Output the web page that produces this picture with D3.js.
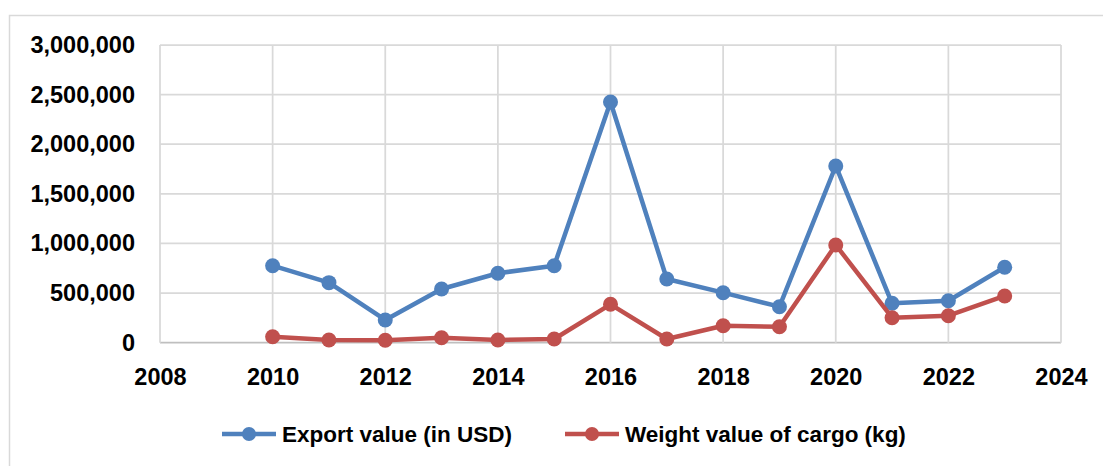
<!DOCTYPE html>
<html>
<head>
<meta charset="utf-8">
<script src="https://cdn.jsdelivr.net/npm/d3@7"></script>
<style>
  html, body { margin: 0; padding: 0; background: #fff; }
  svg { display: block; }
</style>
</head>
<body>
<div id="chart"></div>
<script>
var years = [2010, 2011, 2012, 2013, 2014, 2015, 2016, 2017, 2018, 2019, 2020, 2021, 2022, 2023];
var exportValue = [776000, 605000, 229000, 541000, 700000, 776000, 2426000, 642000, 504000, 363000, 1781000, 397000, 423000, 760000];
var cargoWeight = [60000, 27000, 25000, 50000, 27000, 37000, 387000, 37000, 171000, 161000, 985000, 252000, 272000, 471000];
var seriesNames = ["Export value (in USD)", "Weight value of cargo (kg)"];
var seriesColors = ["#4f81bd", "#c0504d"];
var xTicks = [2008, 2010, 2012, 2014, 2016, 2018, 2020, 2022, 2024];
var yTicks = [0, 500000, 1000000, 1500000, 2000000, 2500000, 3000000];

var width = 1103, height = 466;
var plotLeft = 160, plotRight = 1061, plotTop = 45, plotBottom = 342.7;
var fontFamily = "'Liberation Sans', Arial, sans-serif";
var gridColor = "#d9d9d9";

var svg = d3.select("#chart").append("svg")
  .attr("width", width)
  .attr("height", height);

// outer chart border (only left and top are visible in the picture)
svg.append("path")
  .attr("d", "M9.5," + (height + 2) + "V15.5H" + (width + 2))
  .attr("fill", "none")
  .attr("stroke", gridColor)
  .attr("stroke-width", 1.5);

var x = d3.scaleLinear().domain([2008, 2024]).range([plotLeft, plotRight]);
var y = d3.scaleLinear().domain([0, 3000000]).range([plotBottom, plotTop]);

// gridlines
var grid = svg.append("g");
grid.selectAll("line.h").data(yTicks).enter().append("line")
  .attr("x1", plotLeft).attr("x2", plotRight)
  .attr("y1", d => y(d)).attr("y2", d => y(d))
  .attr("stroke", d => d == 0 ? "#bfbfbf" : gridColor)
  .attr("stroke-width", 1.75);
grid.selectAll("line.v").data(xTicks).enter().append("line")
  .attr("x1", d => x(d)).attr("x2", d => x(d))
  .attr("y1", plotTop).attr("y2", plotBottom)
  .attr("stroke", gridColor)
  .attr("stroke-width", 1.75);

// y axis labels
var yAxis = d3.axisLeft(y).tickValues(yTicks).tickFormat(d3.format(",")).tickSize(0).tickPadding(25);
svg.append("g")
  .attr("transform", "translate(" + plotLeft + ",0)")
  .call(yAxis)
  .call(g => g.select(".domain").remove())
  .selectAll("text")
  .attr("font-family", fontFamily)
  .attr("font-weight", "bold")
  .attr("font-size", "23.5px")
  .attr("fill", "#000");

// x axis labels
var xAxis = d3.axisBottom(x).tickValues(xTicks).tickFormat(d3.format("d")).tickSize(0).tickPadding(26);
svg.append("g")
  .attr("transform", "translate(0," + plotBottom + ")")
  .call(xAxis)
  .call(g => g.select(".domain").remove())
  .selectAll("text")
  .attr("font-family", fontFamily)
  .attr("font-weight", "bold")
  .attr("font-size", "23.5px")
  .attr("fill", "#000");

// series
var series = [exportValue, cargoWeight];
var line = d3.line().x((d, i) => x(years[i])).y(d => y(d));

series.forEach(function(values, k) {
  var g = svg.append("g");
  g.append("path")
    .datum(values)
    .attr("d", line)
    .attr("fill", "none")
    .attr("stroke", seriesColors[k])
    .attr("stroke-width", 4.5)
    .attr("stroke-linejoin", "round");
  g.selectAll("circle").data(values).enter().append("circle")
    .attr("cx", (d, i) => x(years[i]))
    .attr("cy", d => y(d))
    .attr("r", 7.5)
    .attr("fill", seriesColors[k]);
});

// legend
var legendX = [222, 565];
var legendY = 434;
seriesNames.forEach(function(name, k) {
  var g = svg.append("g").attr("transform", "translate(" + legendX[k] + "," + legendY + ")");
  g.append("line")
    .attr("x1", 0).attr("x2", 54)
    .attr("stroke", seriesColors[k])
    .attr("stroke-width", 4.5);
  g.append("circle")
    .attr("cx", 27)
    .attr("r", 7)
    .attr("fill", seriesColors[k]);
  g.append("text")
    .attr("x", 60)
    .attr("y", 8)
    .text(name)
    .attr("font-family", fontFamily)
    .attr("font-weight", "bold")
    .attr("font-size", "22.5px")
    .attr("fill", "#000");
});
</script>
</body>
</html>
